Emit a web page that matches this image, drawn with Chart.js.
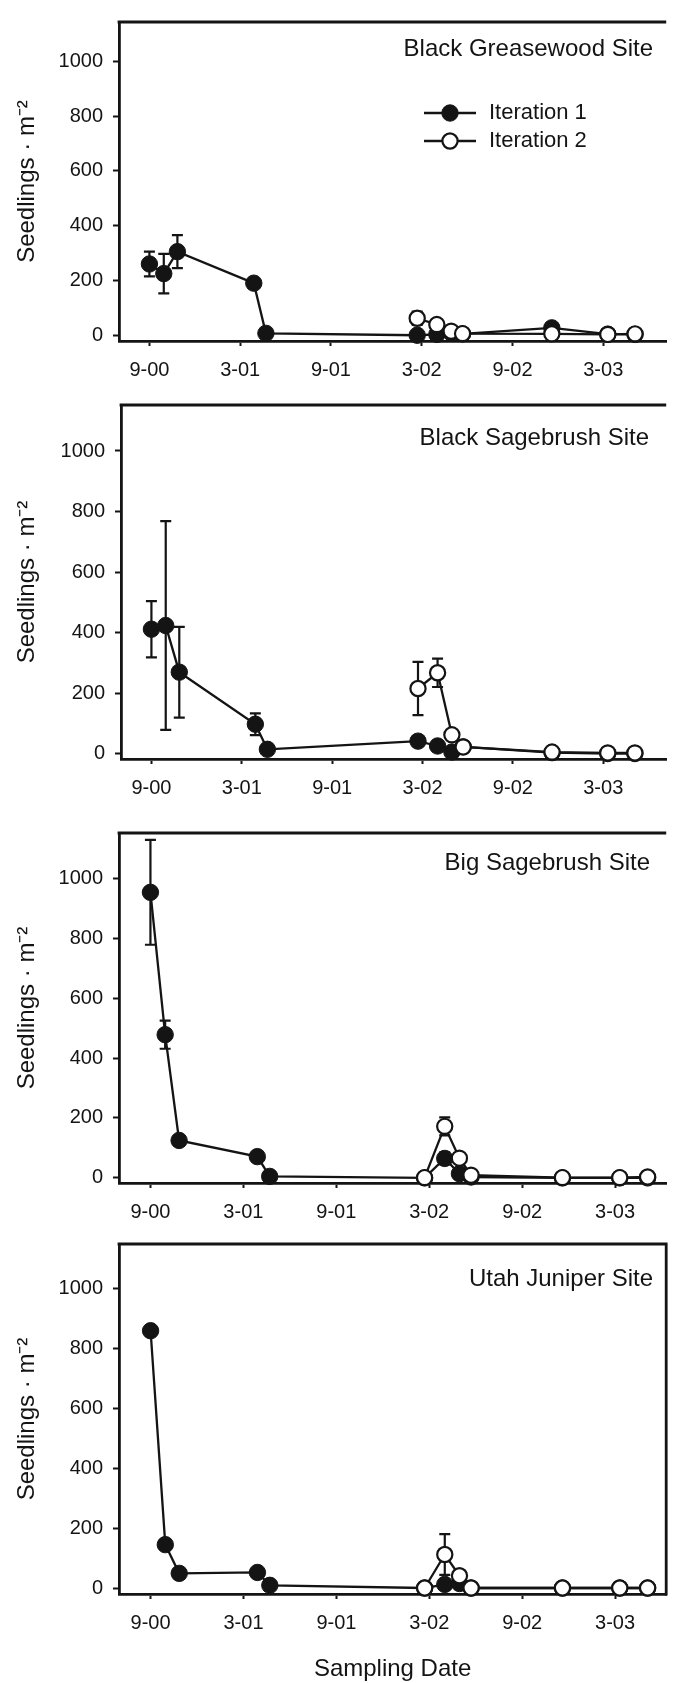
<!DOCTYPE html>
<html>
<head>
<meta charset="utf-8">
<script src="https://cdn.jsdelivr.net/npm/chart.js@4.4.1/dist/chart.umd.min.js"></script>
<style>
html,body{margin:0;padding:0;background:#fff;width:676px;height:1683px;overflow:hidden;}
.panel{position:absolute;left:0;width:676px;}
.panel canvas{display:block;}
</style>
</head>
<body>
<div class="panel" id="p0"><canvas id="c0"></canvas></div>
<div class="panel" id="p1"><canvas id="c1"></canvas></div>
<div class="panel" id="p2"><canvas id="c2"></canvas></div>
<div class="panel" id="p3"><canvas id="c3"></canvas></div>
<script>
// ---------- DATA ----------
// sampling dates, in months after September 2000
const sampleMonths = [0, 0.95, 1.85, 6.9, 7.7, 17.7, 19.0, 19.95, 20.7, 26.6, 30.3, 32.1];
const xTickValues = [0, 6, 12, 18, 24, 30];
const xTickLabels = ["9-00", "3-01", "9-01", "3-02", "9-02", "3-03"];
const yTickValues = [0, 200, 400, 600, 800, 1000];
const yTickLabels = ["0", "200", "400", "600", "800", "1000"];
const siteNames = ["Black Greasewood Site", "Black Sagebrush Site", "Big Sagebrush Site", "Utah Juniper Site"];
const seriesNames = ["Iteration 1", "Iteration 2"];
const yAxisTitle = "Seedlings · m⁻²";
const xAxisTitle = "Sampling Date";

const greasewoodIter1   = [260, 225, 305, 190, 7, 0, 3, 8, 5, 27, 4, 3];
const greasewoodIter1SE = [45, 72, 60, 0, 0, 0, 0, 0, 0, 0, 0, 0];
const greasewoodIter2   = [null, null, null, null, null, 62, 39, 15, 6, 5, 3, 5];
const greasewoodIter2SE = [0, 0, 0, 0, 0, 24, 0, 0, 0, 0, 0, 0];

const blackSageIter1   = [411, 423, 269, 97, 14, 41, 25, 5, 22, 3, 0, 0];
const blackSageIter1SE = [93, 345, 150, 36, 0, 0, 0, 0, 0, 0, 0, 0];
const blackSageIter2   = [null, null, null, null, null, 215, 267, 62, 22, 5, 2, 2];
const blackSageIter2SE = [0, 0, 0, 0, 0, 88, 47, 0, 0, 0, 0, 0];

const bigSageIter1   = [953, 478, 125, 71, 5, 0, 65, 14, 3, 0, 0, 0];
const bigSageIter1SE = [175, 47, 0, 0, 0, 0, 20, 0, 0, 0, 0, 0];
const bigSageIter2   = [null, null, null, null, null, 1, 172, 66, 9, 1, 1, 3];
const bigSageIter2SE = [0, 0, 0, 0, 0, 0, 30, 0, 0, 0, 0, 0];

const juniperIter1   = [860, 145, 49, 52, 9, 0, 12, 15, 0, 0, 0, 0];
const juniperIter1SE = [0, 15, 0, 0, 0, 0, 0, 0, 0, 0, 0, 0];
const juniperIter2   = [null, null, null, null, null, 0, 112, 41, 0, 0, 0, 0];
const juniperIter2SE = [0, 0, 0, 0, 0, 0, 68, 0, 0, 0, 0, 0];

const siteSeries = [
  [greasewoodIter1, greasewoodIter1SE, greasewoodIter2, greasewoodIter2SE],
  [blackSageIter1, blackSageIter1SE, blackSageIter2, blackSageIter2SE],
  [bigSageIter1, bigSageIter1SE, bigSageIter2, bigSageIter2SE],
  [juniperIter1, juniperIter1SE, juniperIter2, juniperIter2SE]
];

// ---------- LAYOUT ----------
const INK = '#141414';
const FONT = "'Liberation Sans', Arial, Helvetica, sans-serif";
const layouts = [
  {top: 0,    padTop: 13, plotH: 328, axisH: 44, yW: 119, padRight: 0, xMin: -2.01, xMax: 34.16, yMin: -21, yMax: 1143, rightBorder: false, titleDy: 27.6, titleRight: 653, legend: true},
  {top: 383,  padTop: 13, plotH: 363, axisH: 44, yW: 121, padRight: 0, xMin: -2.02, xMax: 34.18, yMin: -18, yMax: 1152, rightBorder: false, titleDy: 33, titleRight: 649, legend: false},
  {top: 811,  padTop: 13, plotH: 359, axisH: 44, yW: 119, padRight: 0, xMin: -2.03, xMax: 33.3,  yMin: -17, yMax: 1151, rightBorder: false, titleDy: 30, titleRight: 650, legend: false},
  {top: 1222, padTop: 13, plotH: 359, axisH: 89, yW: 119, padRight: 3, xMin: -2.04, xMax: 33.3,  yMin: -20, yMax: 1150, rightBorder: true,  titleDy: 35.5, titleRight: 653, legend: false, xTitle: true}
];

function toPoints(vals, errs) {
  const pts = [];
  vals.forEach((v, i) => { if (v !== null) pts.push({x: sampleMonths[i], y: v, err: errs[i]}); });
  return pts;
}

const framePlugin = {
  id: 'frame',
  afterDraw(chart, args, opts) {
    const {ctx, chartArea: a} = chart;
    ctx.save();
    ctx.strokeStyle = INK; ctx.lineWidth = 2.8;
    ctx.beginPath();
    ctx.moveTo(a.left - 1.4, a.top);
    ctx.lineTo(a.right, a.top);
    if (opts.right) ctx.lineTo(a.right, a.bottom + 1.4);
    ctx.stroke();
    ctx.restore();
  }
};

const errorBarPlugin = {
  id: 'errorBars',
  beforeDatasetsDraw(chart) {
    const {ctx, scales: {x, y}} = chart;
    ctx.save();
    ctx.strokeStyle = INK; ctx.lineWidth = 2.2;
    chart.data.datasets.forEach(ds => {
      ds.data.forEach(p => {
        if (!p.err) return;
        const px = x.getPixelForValue(p.x);
        const t = y.getPixelForValue(p.y + p.err);
        const b = y.getPixelForValue(p.y - p.err);
        ctx.beginPath();
        ctx.moveTo(px, t); ctx.lineTo(px, b);
        ctx.moveTo(px - 5.5, t); ctx.lineTo(px + 5.5, t);
        ctx.moveTo(px - 5.5, b); ctx.lineTo(px + 5.5, b);
        ctx.stroke();
      });
    });
    ctx.restore();
  }
};

const siteTitlePlugin = {
  id: 'siteTitle',
  afterDraw(chart, args, opts) {
    const {ctx, chartArea: a} = chart;
    ctx.save();
    ctx.fillStyle = INK;
    ctx.font = '24px ' + FONT;
    ctx.textAlign = 'right'; ctx.textBaseline = 'middle';
    ctx.fillText(opts.text, opts.right, a.top + opts.dy);
    ctx.restore();
  }
};

const insetLegendPlugin = {
  id: 'insetLegend',
  afterDraw(chart, args, opts) {
    if (!opts.show) return;
    const {ctx} = chart;
    const off = chart.canvas.parentNode.offsetTop;
    ctx.save();
    chart.data.datasets.forEach((ds, i) => {
      const yy = opts.y[i] - off;
      ctx.strokeStyle = INK; ctx.lineWidth = 2.6;
      ctx.beginPath(); ctx.moveTo(opts.lineX0, yy); ctx.lineTo(opts.lineX1, yy); ctx.stroke();
      ctx.beginPath(); ctx.arc(opts.markerX, yy, ds.pointRadius, 0, Math.PI * 2);
      ctx.fillStyle = ds.pointBackgroundColor; ctx.fill();
      ctx.lineWidth = ds.pointBorderWidth; ctx.strokeStyle = ds.pointBorderColor; ctx.stroke();
      ctx.fillStyle = INK; ctx.font = '22px ' + FONT;
      ctx.textAlign = 'left'; ctx.textBaseline = 'middle';
      ctx.fillText(ds.label, opts.textX, yy);
    });
    ctx.restore();
  }
};

layouts.forEach((L, k) => {
  const wrap = document.getElementById('p' + k);
  const canvas = document.getElementById('c' + k);
  const H = L.padTop + L.plotH + L.axisH;
  wrap.style.top = L.top + 'px';
  wrap.style.height = H + 'px';
  canvas.width = 676; canvas.height = H;
  canvas.style.width = '676px'; canvas.style.height = H + 'px';
  const [v1, e1, v2, e2] = siteSeries[k];

  new Chart(canvas, {
    type: 'line',
    data: {
      datasets: [
        {label: seriesNames[0], data: toPoints(v1, e1), borderColor: INK, borderWidth: 2.3,
         pointRadius: 8.2, pointHoverRadius: 8.2, pointBackgroundColor: INK, pointBorderColor: INK, pointBorderWidth: 1,
         tension: 0, clip: false, order: 1},
        {label: seriesNames[1], data: toPoints(v2, e2), borderColor: INK, borderWidth: 2.3,
         pointRadius: 7.6, pointHoverRadius: 7.6, pointBackgroundColor: '#ffffff', pointBorderColor: INK, pointBorderWidth: 2.2,
         tension: 0, clip: false, order: 0}
      ]
    },
    options: {
      responsive: false, animation: false, devicePixelRatio: 1,
      layout: {padding: {top: L.padTop, right: L.padRight, left: 0, bottom: 0}},
      plugins: {
        legend: {display: false}, tooltip: {enabled: false},
        frame: {right: L.rightBorder},
        siteTitle: {text: siteNames[k], right: L.titleRight, dy: L.titleDy},
        insetLegend: {show: L.legend, y: [113, 141], lineX0: 424, lineX1: 476, markerX: 450, textX: 489}
      },
      scales: {
        x: {
          type: 'linear', min: L.xMin, max: L.xMax,
          afterBuildTicks: s => { s.ticks = xTickValues.map(v => ({value: v})); },
          afterFit: s => { s.height = L.axisH; },
          ticks: {autoSkip: false, maxRotation: 0, padding: 12, color: INK, font: {family: FONT, size: 20},
                  callback: (v) => xTickLabels[xTickValues.indexOf(v)]},
          grid: {display: true, drawOnChartArea: false, drawTicks: true, tickLength: 5, tickWidth: 2, tickColor: INK},
          border: {display: true, color: INK, width: 2.8},
          title: {display: !!L.xTitle, text: xAxisTitle, color: INK, font: {family: FONT, size: 24, lineHeight: 1}, padding: {top: 0, bottom: 2}}
        },
        y: {
          type: 'linear', min: L.yMin, max: L.yMax,
          afterBuildTicks: s => { s.ticks = yTickValues.map(v => ({value: v})); },
          afterFit: s => { s.width = L.yW; },
          ticks: {padding: 10, color: INK, font: {family: FONT, size: 20},
                  callback: (v) => yTickLabels[yTickValues.indexOf(v)]},
          grid: {display: true, drawOnChartArea: false, drawTicks: true, tickLength: 6, tickWidth: 2, tickColor: INK},
          border: {display: true, color: INK, width: 2.8},
          title: {display: true, text: yAxisTitle, color: INK, font: {family: FONT, size: 24}, padding: {top: 13, bottom: 0}}
        }
      }
    },
    plugins: [errorBarPlugin, framePlugin, siteTitlePlugin, insetLegendPlugin]
  });
});
</script>
</body>
</html>
